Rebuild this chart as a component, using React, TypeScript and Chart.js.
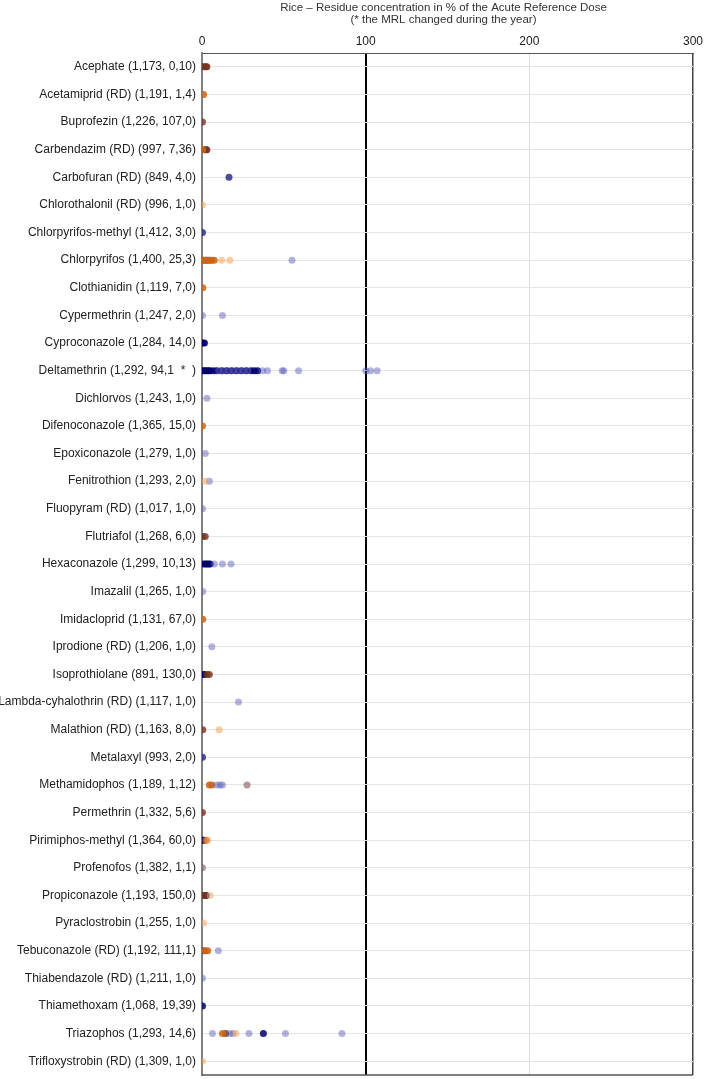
import React, { useEffect, useRef } from "react";
import { Chart, registerables } from "chart.js";

Chart.register(...registerables);

const titleLines = [
  "Rice \u2013 Residue concentration in % of the Acute Reference Dose",
  "(* the MRL changed during the year)",
];

const categories = [
  "Acephate (1,173, 0,10)",
  "Acetamiprid (RD) (1,191, 1,4)",
  "Buprofezin (1,226, 107,0)",
  "Carbendazim (RD) (997, 7,36)",
  "Carbofuran (RD) (849, 4,0)",
  "Chlorothalonil (RD) (996, 1,0)",
  "Chlorpyrifos-methyl (1,412, 3,0)",
  "Chlorpyrifos (1,400, 25,3)",
  "Clothianidin (1,119, 7,0)",
  "Cypermethrin (1,247, 2,0)",
  "Cyproconazole (1,284, 14,0)",
  "Deltamethrin (1,292, 94,1  *  )",
  "Dichlorvos (1,243, 1,0)",
  "Difenoconazole (1,365, 15,0)",
  "Epoxiconazole (1,279, 1,0)",
  "Fenitrothion (1,293, 2,0)",
  "Fluopyram (RD) (1,017, 1,0)",
  "Flutriafol (1,268, 6,0)",
  "Hexaconazole (1,299, 10,13)",
  "Imazalil (1,265, 1,0)",
  "Imidacloprid (1,131, 67,0)",
  "Iprodione (RD) (1,206, 1,0)",
  "Isoprothiolane (891, 130,0)",
  "Lambda-cyhalothrin (RD) (1,117, 1,0)",
  "Malathion (RD) (1,163, 8,0)",
  "Metalaxyl (993, 2,0)",
  "Methamidophos (1,189, 1,12)",
  "Permethrin (1,332, 5,6)",
  "Pirimiphos-methyl (1,364, 60,0)",
  "Profenofos (1,382, 1,1)",
  "Propiconazole (1,193, 150,0)",
  "Pyraclostrobin (1,255, 1,0)",
  "Tebuconazole (RD) (1,192, 111,1)",
  "Thiabendazole (RD) (1,211, 1,0)",
  "Thiamethoxam (1,068, 19,39)",
  "Triazophos (1,293, 14,6)",
  "Trifloxystrobin (RD) (1,309, 1,0)",
];

const xTicks = [0, 100, 200, 300];

// [category index, % of ARfD]
const navyPoints: [number, number][] = [
  [10, 0.5], [10, 1.5],
  [11, 0], [11, 1], [11, 2], [11, 3], [11, 4], [11, 5], [11, 7], [11, 9], [11, 12],
  [11, 15], [11, 18], [11, 21], [11, 24], [11, 27], [11, 30], [11, 32], [11, 34],
  [18, 1], [18, 2], [18, 3], [18, 4], [18, 5],
  [22, 0.5], [22, 1.5],
  [28, 0.3], [28, 1.2],
  [30, 2.5],
  [34, 0.3],
  [35, 37.5],
];

const bluePoints: [number, number][] = [
  [7, 55],
  [9, 0.3], [9, 12.5],
  [11, 10], [11, 13], [11, 16], [11, 19], [11, 22], [11, 25], [11, 28],
  [11, 37], [11, 40], [11, 49], [11, 50], [11, 59], [11, 100], [11, 103], [11, 107],
  [12, 3],
  [14, 2],
  [15, 4.5],
  [16, 0.3],
  [18, 7.5], [18, 12.5], [18, 17.7],
  [19, 0.5],
  [21, 6],
  [23, 22.3],
  [26, 9], [26, 11], [26, 12.5],
  [32, 10],
  [33, 0.3],
  [35, 6.4], [35, 17], [35, 19], [35, 28.7], [35, 51], [35, 85.5],
];

const slatePoints: [number, number][] = [
  [4, 16.5],
  [6, 0.3],
  [25, 0.3],
];

const orangePoints: [number, number][] = [
  [1, 1],
  [3, 0.5],
  [7, 1], [7, 2], [7, 3], [7, 4], [7, 5], [7, 6], [7, 7.5],
  [8, 0.5],
  [13, 0.3],
  [20, 0.5],
  [26, 4.5], [26, 6],
  [28, 2.5],
  [32, 2], [32, 3.5],
  [35, 12.5],
];

const lightOrangePoints: [number, number][] = [
  [5, 0.3],
  [7, 12], [7, 17],
  [15, 2],
  [24, 10.5],
  [28, 3.5],
  [30, 5],
  [31, 1],
  [35, 20.8],
  [36, 0.3],
];

const brownPoints: [number, number][] = [
  [0, 0.5], [0, 1.5], [0, 2.5], [0, 3],
  [2, 0.3],
  [3, 1.5], [3, 2.5], [3, 3],
  [7, 0.5], [7, 2.5],
  [17, 0.3], [17, 2],
  [22, 3], [22, 4.5],
  [24, 0.5],
  [27, 0.3],
  [30, 0.5], [30, 1.5],
  [32, 1],
  [35, 14.5],
];

const mauvePoints: [number, number][] = [
  [26, 27.5],
  [29, 0.3],
];

const toData = (pts: [number, number][]) =>
  pts.map(([c, v]) => ({ x: v, y: categories[c] }));

const FONT = "'Liberation Sans', Arial, sans-serif";

export default function App() {
  const ref = useRef<HTMLCanvasElement | null>(null);

  useEffect(() => {
    document.body.style.margin = "0";
    const canvas = ref.current;
    if (!canvas) return;

    const frame = {
      id: "frame",
      afterDraw(chart: any) {
        const { ctx, chartArea } = chart;
        ctx.save();
        ctx.strokeStyle = "#555";
        ctx.lineWidth = 1.5;
        ctx.beginPath();
        ctx.moveTo(chartArea.left, chartArea.bottom);
        ctx.lineTo(chartArea.right, chartArea.bottom);
        ctx.stroke();
        ctx.fillStyle = "#333";
        ctx.font = `11.5px ${FONT}`;
        ctx.textAlign = "center";
        ctx.textBaseline = "middle";
        const cx = (chartArea.left + chartArea.right) / 2 - 4;
        ctx.fillText(titleLines[0], cx, 8);
        ctx.fillText(titleLines[1], cx, 19.5);
        ctx.restore();
      },
    };

    const ds = (label: string, pts: [number, number][], color: string) => ({
      label,
      data: toData(pts),
      backgroundColor: color,
      borderWidth: 0,
      pointRadius: 3.5,
    });

    const chart = new Chart(canvas, {
      type: "scatter",
      data: {
        datasets: [
          ds("light orange", lightOrangePoints, "rgba(242,165,90,0.55)"),
          ds("blue", bluePoints, "rgba(85,85,185,0.45)"),
          ds("orange", orangePoints, "rgba(205,100,20,0.85)"),
          ds("brown", brownPoints, "rgba(120,50,30,0.8)"),
          ds("mauve", mauvePoints, "rgba(130,85,90,0.6)"),
          ds("slate", slatePoints, "rgba(45,45,140,0.85)"),
          ds("navy", navyPoints, "rgba(0,0,110,0.85)"),
        ],
      } as any,
      plugins: [frame],
      options: {
        animation: false,
        responsive: false,
        layout: { padding: { top: 0, right: 16, bottom: 2, left: 0 } },
        plugins: {
          legend: { display: false },
          tooltip: { enabled: false },
          title: { display: false },
        },
        scales: {
          x: {
            type: "linear",
            position: "top",
            min: 0,
            max: 300,
            afterBuildTicks: (s: any) => {
              s.ticks = xTicks.map((v) => ({ value: v }));
            },
            afterFit: (s: any) => {
              s.height = 53;
            },
            ticks: {
              color: "#222",
              padding: 4,
              font: { family: FONT, size: 12 },
            },
            grid: {
              drawTicks: false,
              color: (c: any) =>
                c.tick.value === 100
                  ? "#000"
                  : c.tick.value === 300
                  ? "#444"
                  : c.tick.value === 0
                  ? "#808080"
                  : "#dcdcdc",
              lineWidth: (c: any) =>
                c.tick.value === 100 ? 2 : c.tick.value === 0 ? 2 : c.tick.value === 300 ? 1.5 : 1,
            },
            border: { color: "#555", width: 1 },
          },
          y: {
            type: "category",
            labels: categories,
            offset: true,
            afterFit: (s: any) => {
              s.width = 202;
              s.paddingTop = 0;
              s.paddingBottom = 0;
            },
            ticks: {
              autoSkip: false,
              color: "#222",
              padding: 6,
              font: { family: FONT, size: 12 },
            },
            grid: { offset: false, drawTicks: false, color: "#e4e4e4", lineWidth: 1 },
            border: { color: "#808080", width: 2 },
          },
        },
      } as any,
    });

    return () => chart.destroy();
  }, []);

  return (
    <div style={{ width: 709, height: 1079 }}>
      <canvas ref={ref} width={709} height={1079} />
    </div>
  );
}
